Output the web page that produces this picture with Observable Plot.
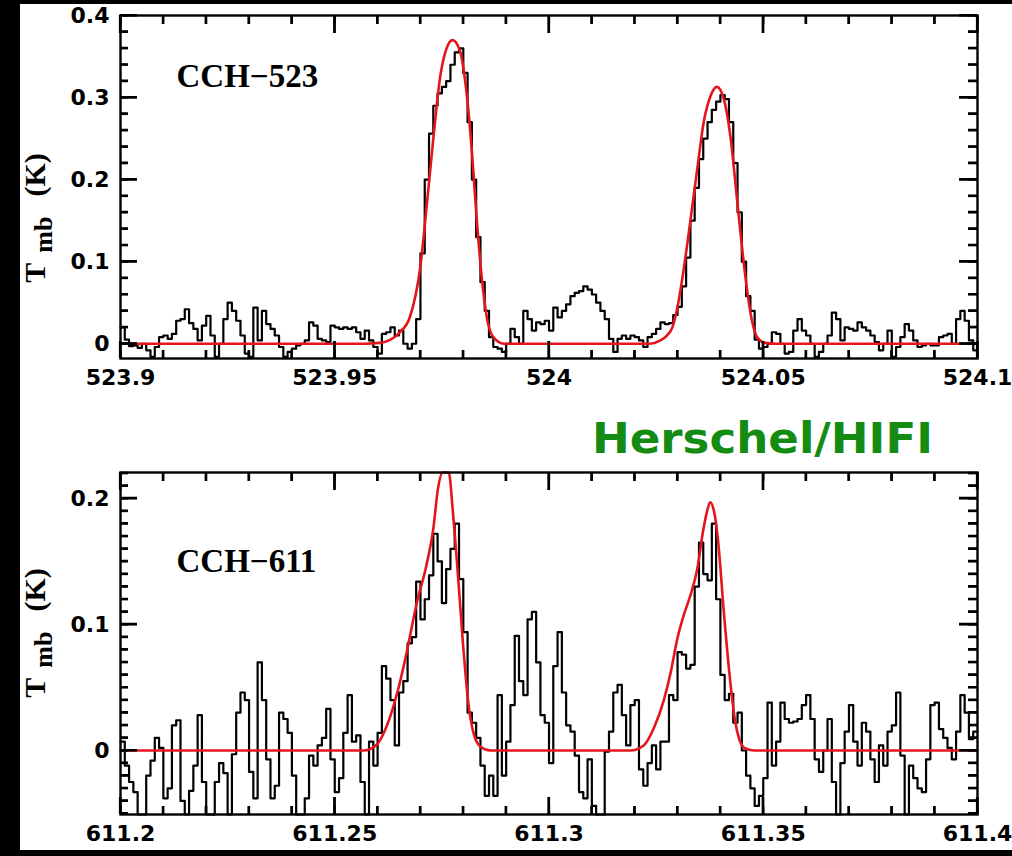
<!DOCTYPE html>
<html><head><meta charset="utf-8">
<script src="https://cdn.jsdelivr.net/npm/d3@7"></script>
<script src="https://cdn.jsdelivr.net/npm/@observablehq/plot@0.6"></script>
<style>
html,body{margin:0;padding:0;background:#000;}
body{width:1012px;height:856px;position:relative;overflow:hidden;}
#top,#bot{position:absolute;left:20px;}
#top{top:4px;} #bot{top:400px;}
</style></head><body>
<div id="top"></div><div id="bot"></div>
<script>
// ---------- data ----------
const chanWidth = 0.001;
const topStart = 523.9;
const botStart = 611.2;

// CCH-523 observed spectrum (Tmb, K), one value per channel
const topSpec = [
 0.02,0.005,-0.003,-0.002,-0.005,0.0,-0.008,-0.016,-0.004,0.008,
 0.01,0.006,0.012,0.028,0.03,0.042,0.025,0.018,0.004,0.022,
 0.034,0.01,-0.016,0.0,0.03,0.05,0.04,0.028,0.01,-0.012,
 -0.016,0.044,0.004,0.04,0.024,0.018,0.01,-0.004,-0.016,-0.01,
 -0.006,-0.002,0.0,0.004,0.026,0.022,0.006,0.004,0.002,0.022,
 0.02,0.018,0.02,0.018,0.02,0.014,0.006,0.016,0.004,-0.004,
 -0.012,0.012,0.014,0.02,0.01,0.016,0.0,-0.006,0.0,0.03,
 0.11,0.2,0.256,0.29,0.305,0.313,0.32,0.34,0.355,0.36,
 0.33,0.27,0.2,0.13,0.075,0.04,0.008,-0.004,-0.006,-0.01,
 0.0,0.018,0.008,0.0,0.04,0.03,0.016,0.026,0.024,0.028,
 0.016,0.044,0.032,0.04,0.048,0.058,0.062,0.064,0.07,0.066,
 0.06,0.05,0.04,0.03,0.006,-0.01,0.006,0.01,0.006,0.01,
 0.008,0.004,-0.004,0.008,0.012,0.018,0.026,0.024,0.025,0.035,
 0.045,0.07,0.105,0.15,0.19,0.225,0.25,0.27,0.285,0.295,
 0.303,0.298,0.27,0.22,0.16,0.1,0.058,0.04,0.005,-0.006,
 -0.004,0.0,0.014,0.012,0.0,-0.012,-0.01,0.016,0.03,0.016,
 0.01,0.0,-0.016,-0.01,0.0,0.01,0.038,0.03,0.004,0.02,
 0.018,0.016,0.026,0.02,0.016,0.01,0.002,-0.008,0.0,0.016,
 -0.016,-0.004,0.008,0.024,0.016,0.004,-0.004,-0.002,0.0,-0.002,
 -0.002,0.008,0.01,0.012,0.0,0.03,0.04,0.028,0.004,-0.008
];

// CCH-611 observed spectrum (Tmb, K)
const botSpec = [
 0.007,-0.012,-0.025,-0.033,-0.06,-0.06,-0.02,-0.008,0.01,0.002,
 -0.038,-0.03,0.02,0.024,-0.04,-0.06,-0.032,-0.012,0.028,-0.025,
 -0.06,-0.06,-0.025,-0.01,-0.018,-0.06,-0.003,0.03,0.046,0.04,
 -0.017,-0.038,0.07,0.04,-0.007,-0.038,-0.028,0.03,0.025,0.014,
 -0.02,-0.06,-0.06,-0.038,-0.004,-0.012,0.004,0.01,0.033,-0.007,
 -0.033,-0.022,0.014,0.044,0.007,0.012,-0.025,-0.06,0.007,-0.012,
 0.014,0.067,0.057,0.04,0.004,0.046,0.055,0.085,0.09,0.134,
 0.104,0.12,0.139,0.172,0.15,0.117,0.144,0.16,0.18,0.136,
 0.094,0.03,0.022,0.01,-0.012,-0.036,-0.02,-0.036,0.044,-0.02,
 0.007,0.036,0.091,0.055,0.044,0.104,0.11,0.07,0.028,0.022,
 -0.01,0.067,0.094,0.046,0.02,0.015,-0.004,-0.033,-0.038,-0.007,
 -0.044,-0.06,-0.06,-0.001,0.015,0.046,0.052,0.028,0.004,0.036,
 0.04,-0.015,-0.028,-0.01,0.004,-0.015,0.007,0.007,0.044,0.04,
 0.078,0.076,0.065,0.068,0.13,0.165,0.14,0.135,0.18,0.12,
 0.06,0.04,0.045,0.022,0.03,0.0,-0.02,-0.03,-0.044,-0.036,
 -0.022,0.038,-0.012,0.007,0.038,0.025,0.022,0.023,0.025,0.036,
 0.044,0.025,-0.007,-0.017,0.0,0.025,-0.025,-0.06,-0.01,0.015,
 0.036,0.007,-0.012,0.022,0.015,-0.007,-0.025,0.004,-0.012,0.015,
 0.02,0.046,-0.004,-0.06,-0.012,-0.022,-0.03,-0.033,-0.007,0.036,
 0.038,0.017,0.01,0.002,-0.007,0.015,0.044,0.03,0.009,0.015
];

// fitted model (red), sampled points
const topFitX = [523.9,523.957,523.9605,523.963,523.965,523.9675,523.970,523.9715,523.973,523.9746,523.9761,523.9775,523.9792,523.9808,523.982,523.9831,523.9843,523.9855,523.987,523.9895,
 524.0235,524.026,524.0275,524.0288,524.030,524.0315,524.033,524.0346,524.0361,524.0377,524.0392,524.0408,524.0424,524.0439,524.0452,524.0465,524.0475,524.0486,524.0505,524.053,524.1];
const topFitY = [0,0,0.001,0.005,0.013,0.032,0.095,0.17,0.25,0.325,0.36,0.37,0.357,0.304,0.235,0.154,0.081,0.032,0.008,0,
 0,0.004,0.01,0.02,0.045,0.093,0.15,0.213,0.27,0.302,0.313,0.298,0.25,0.175,0.11,0.055,0.025,0.008,0.001,0,0];
const botFitX = [611.2,611.2568,611.2599,611.2622,611.2646,611.2668,611.2692,611.2714,611.2730,611.2741,611.2752,611.2759,611.2766,611.2776,611.2788,611.2799,611.2811,611.2823,611.2840,611.2863,
 611.3190,611.3221,611.3245,611.3268,611.3284,611.3299,611.3315,611.3330,611.3346,611.3360,611.3369,611.3376,611.3385,611.3395,611.3408,611.3422,611.3434,611.3444,611.3456,611.3478,611.4];
const botFitY = [0,0,0.005,0.02,0.046,0.078,0.118,0.147,0.176,0.208,0.222,0.226,0.222,0.188,0.137,0.086,0.04,0.015,0.003,0,
 0,0.004,0.018,0.04,0.062,0.088,0.108,0.123,0.144,0.175,0.19,0.197,0.19,0.165,0.11,0.058,0.024,0.009,0.002,0,0];

// axes
const topXTicks = [523.9,523.95,524,524.05,524.1];
const topXLabels = ["523.9","523.95","524","524.05","524.1"];
const topYTicks = [0,0.1,0.2,0.3,0.4];
const topYLabels = ["0","0.1","0.2","0.3","0.4"];
const botXTicks = [611.2,611.25,611.3,611.35,611.4];
const botXLabels = ["611.2","611.25","611.3","611.35","611.4"];
const botYTicks = [0,0.1,0.2];
const botYLabels = ["0","0.1","0.2"];
const topName = "CCH\u2212523";
const botName = "CCH\u2212611";
const instrument = "Herschel/HIFI";

// ---------- drawing ----------
const W = 992, ML = 100, MR = 35;
function specRows(start, vals) {
  const rows = vals.map((t, i) => ({x: start + i * chanWidth, y: t}));
  rows.push({x: start + vals.length * chanWidth, y: vals[vals.length - 1]});
  return rows;
}
function fitRows(xs, ys) { return xs.map((x, i) => ({x, y: ys[i]})); }

function panel(o) {
  const lab = (ticks, labels) => d => labels[ticks.findIndex(t => Math.abs(t - d) < 1e-9)];
  const [x0, x1] = o.xDomain, [y0, y1] = o.yDomain;
  const fh = o.height - o.marginTop - o.marginBottom;   // frame height
  const fw = W - ML - MR;                                 // frame width
  const xMinor = d3.ticks(x0, x1, 20), yMinor = d3.ticks(y0, y1, 20);
  const tk = {stroke: "#000", strokeWidth: 2.2};
  const tickFont = {fontSize: 22, fontWeight: "bold", fontFamily: "DejaVu Sans", fill: "#000"};
  const svg = Plot.plot({
    width: W, height: o.height,
    marginLeft: ML, marginRight: MR, marginTop: o.marginTop, marginBottom: o.marginBottom,
    x: {domain: o.xDomain, label: null, clamp: true},
    y: {domain: o.yDomain, label: null, clamp: true},
    style: {background: "#fff", color: "#000"},
    marks: [
      Plot.line(specRows(o.start, o.spec), {x: "x", y: "y", curve: "step-after", stroke: "#000", strokeWidth: 2.2}),
      Plot.line(fitRows(o.fitX, o.fitY), {x: "x", y: "y", curve: "monotone-x", stroke: "#e3161b", strokeWidth: 2.6}),
      Plot.frame({stroke: "#000", strokeWidth: 2.4}),
      // inward ticks on all four sides
      Plot.tickX(xMinor, {x: d => d, ...tk, insetTop: fh - 8}),
      Plot.tickX(xMinor, {x: d => d, ...tk, insetBottom: fh - 9}),
      Plot.tickX(o.xTicks, {x: d => d, ...tk, insetTop: fh - 17}),
      Plot.tickX(o.xTicks, {x: d => d, ...tk, insetBottom: fh - 18}),
      Plot.tickY(yMinor, {y: d => d, ...tk, insetRight: fw - 8}),
      Plot.tickY(yMinor, {y: d => d, ...tk, insetLeft: fw - 9}),
      Plot.tickY(o.yTicks, {y: d => d, ...tk, insetRight: fw - 17}),
      Plot.tickY(o.yTicks, {y: d => d, ...tk, insetLeft: fw - 18}),
      Plot.axisX(o.xTicks, {label: null, ...tickFont, anchor: "bottom", tickSize: 0, tickPadding: 11, tickFormat: lab(o.xTicks, o.xLabels)}),
      Plot.axisY(o.yTicks, {label: null, ...tickFont, anchor: "left", tickSize: 0, tickPadding: 11, tickFormat: lab(o.yTicks, o.yLabels)}),
      Plot.text([o.name], {text: d => d, frameAnchor: "top-left", dx: 56, dy: o.nameDy, lineAnchor: "top", textAnchor: "start",
        fontSize: 33, fontWeight: "bold", fontFamily: "Liberation Serif", fill: "#000"})
    ]
  });
  // same ticks again as one path through the plot's own scales (belt and braces)
  const sx = svg.scale("x"), sy = svg.scale("y");
  const X = v => sx.apply(v), Y = v => sy.apply(v);
  const left = X(x0), right = X(x1), bottom = Y(y0), top = Y(y1);
  const isMajor = (v, list) => list.some(t => Math.abs(t - v) < 1e-9);
  let d = "";
  for (const v of xMinor) {
    const m = isMajor(v, o.xTicks);
    d += `M${X(v).toFixed(2)},${bottom.toFixed(2)}V${(bottom - (m ? 17 : 8)).toFixed(2)}`;
    d += `M${X(v).toFixed(2)},${top.toFixed(2)}V${(top + (m ? 18 : 9)).toFixed(2)}`;
  }
  for (const v of yMinor) {
    const m = isMajor(v, o.yTicks);
    d += `M${left.toFixed(2)},${Y(v).toFixed(2)}H${(left + (m ? 17 : 8)).toFixed(2)}`;
    d += `M${right.toFixed(2)},${Y(v).toFixed(2)}H${(right - (m ? 18 : 9)).toFixed(2)}`;
  }
  d3.select(svg).append("path").attr("d", d)
    .attr("stroke", "#000").attr("stroke-width", 2.2).attr("fill", "none");
  // y-axis title  T_mb (K)
  const t = d3.select(svg).append("text")
    .attr("transform", `translate(${o.ylabX},${o.ylabY}) rotate(-90)`)
    .attr("text-anchor", "middle")
    .attr("fill", "#000")
    .style("font", "bold 30px 'Liberation Serif', serif");
  t.append("tspan").text("T");
  t.append("tspan").attr("font-size", "26px").attr("dx", "10").attr("dy", "7").text("mb");
  t.append("tspan").attr("dx", "20").attr("dy", "-7").text("(K)");
  return svg;
}

const topSvg = panel({
  spec: topSpec, start: topStart, fitX: topFitX, fitY: topFitY,
  xDomain: [523.9, 524.1], yDomain: [-0.018, 0.4],
  xTicks: topXTicks, xLabels: topXLabels, yTicks: topYTicks, yLabels: topYLabels,
  height: 396, marginTop: 11, marginBottom: 42, name: topName, nameDy: 48,
  ylabX: 25, ylabY: 214
});
document.getElementById("top").appendChild(topSvg);

const botSvg = panel({
  spec: botSpec, start: botStart, fitX: botFitX, fitY: botFitY,
  xDomain: [611.2, 611.4], yDomain: [-0.0508, 0.2206],
  xTicks: botXTicks, xLabels: botXLabels, yTicks: botYTicks, yLabels: botYLabels,
  height: 450, marginTop: 72, marginBottom: 36, name: botName, nameDy: 76,
  ylabX: 25, ylabY: 233
});
d3.select(botSvg).append("text")
  .attr("x", 572).attr("y", 53)
  .attr("text-anchor", "start")
  .attr("textLength", 341).attr("lengthAdjust", "spacingAndGlyphs")
  .attr("fill", "#148c14")
  .style("font", "bold 42px 'DejaVu Sans', sans-serif")
  .text(instrument);
document.getElementById("bot").appendChild(botSvg);
</script></body></html>
